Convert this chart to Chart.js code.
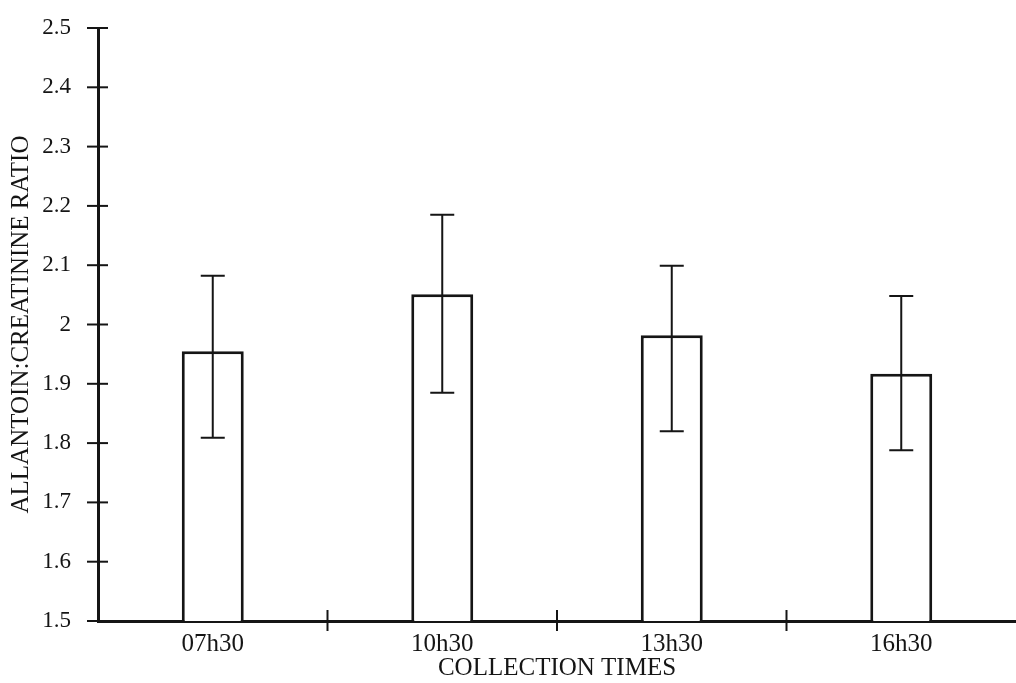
<!DOCTYPE html>
<html>
<head>
<meta charset="utf-8">
<title>Allantoin:creatinine ratio by collection time</title>
<script src="https://cdn.jsdelivr.net/npm/chart.js@4/dist/chart.umd.min.js"></script>
<style>
  html, body { margin: 0; padding: 0; background: #ffffff; }
  #wrap { width: 1016px; height: 683px; }
</style>
</head>
<body>
<div id="wrap"><canvas id="chart" width="1016" height="683"></canvas></div>
<script>
// Collection times and mean ratios with the ends of their error bars
const categories = ['07h30', '10h30', '13h30', '16h30'];
const ratioMeans = [1.955, 2.051, 1.982, 1.917];
const errorUpper = [2.082, 2.185, 2.099, 2.048];
const errorLower = [1.809, 1.885, 1.820, 1.788];

// Value axis range and step
const yMin = 1.5;
const yMax = 2.5;
const yStep = 0.1;

const INK = '#151515';
const SERIF = "'Liberation Serif', 'DejaVu Serif', serif";

// Error bars: vertical line from lower to upper value with short caps
const errorBarPlugin = {
  id: 'errorBars',
  afterDatasetsDraw(chart) {
    const ctx = chart.ctx;
    const y = chart.scales.y;
    const meta = chart.getDatasetMeta(0);
    ctx.save();
    ctx.strokeStyle = INK;
    ctx.lineWidth = 2;
    meta.data.forEach((bar, i) => {
      const x = bar.x;
      const top = y.getPixelForValue(errorUpper[i]);
      const bot = y.getPixelForValue(errorLower[i]);
      const cap = 12;
      ctx.beginPath();
      ctx.moveTo(x, top); ctx.lineTo(x, bot);
      ctx.moveTo(x - cap, top); ctx.lineTo(x + cap, top);
      ctx.moveTo(x - cap, bot); ctx.lineTo(x + cap, bot);
      ctx.stroke();
    });
    ctx.restore();
  }
};

// Tick marks that cross the axis lines on both sides
const crossTicksPlugin = {
  id: 'crossTicks',
  afterDraw(chart) {
    const ctx = chart.ctx;
    const xs = chart.scales.x;
    const ys = chart.scales.y;
    const axisX = chart.chartArea.left;
    const axisY = chart.chartArea.bottom;
    ctx.save();
    ctx.strokeStyle = INK;
    ctx.lineWidth = 2;
    ys.ticks.forEach((t, i) => {
      const py = ys.getPixelForTick(i);
      ctx.beginPath();
      ctx.moveTo(axisX - 11, py);
      ctx.lineTo(axisX + 10, py);
      ctx.stroke();
    });
    for (let i = 0; i < xs.ticks.length - 1; i++) {
      const px = (xs.getPixelForTick(i) + xs.getPixelForTick(i + 1)) / 2;
      ctx.beginPath();
      ctx.moveTo(px, axisY - 11);
      ctx.lineTo(px, axisY + 10);
      ctx.stroke();
    }
    ctx.restore();
  }
};

new Chart(document.getElementById('chart'), {
  type: 'bar',
  data: {
    labels: categories,
    datasets: [{
      data: ratioMeans,
      backgroundColor: '#ffffff',
      borderColor: INK,
      borderWidth: 3,
      borderSkipped: 'start',
      barPercentage: 0.27,
      categoryPercentage: 1.0
    }]
  },
  options: {
    responsive: false,
    animation: false,
    devicePixelRatio: 1,
    layout: { padding: { top: 28, right: 0, bottom: 0, left: 0 } },
    plugins: {
      legend: { display: false },
      tooltip: { enabled: false }
    },
    scales: {
      x: {
        grid: { display: false },
        border: { display: true, color: INK, width: 3 },
        ticks: {
          color: INK,
          padding: 0,
          font: { family: SERIF, size: 25 }
        },
        title: {
          display: true,
          text: 'COLLECTION TIMES',
          color: INK,
          padding: { top: 0, bottom: 0 },
          font: { family: SERIF, size: 25 }
        },
        afterFit(scale) { scale.height = 62; }
      },
      y: {
        min: yMin,
        max: yMax,
        beginAtZero: false,
        grid: { display: false },
        border: { display: true, color: INK, width: 3 },
        ticks: {
          stepSize: yStep,
          color: INK,
          padding: 19,
          font: { family: SERIF, size: 23 },
          callback: (v) => Number(v.toFixed(1)).toString()
        },
        title: {
          display: true,
          text: 'ALLANTOIN:CREATININE RATIO',
          color: INK,
          padding: { top: 6, bottom: 0 },
          font: { family: SERIF, size: 25 }
        },
        afterFit(scale) {
          scale.width = 98;
          scale.paddingTop = 0;
        }
      }
    }
  },
  plugins: [errorBarPlugin, crossTicksPlugin]
});
</script>
</body>
</html>
